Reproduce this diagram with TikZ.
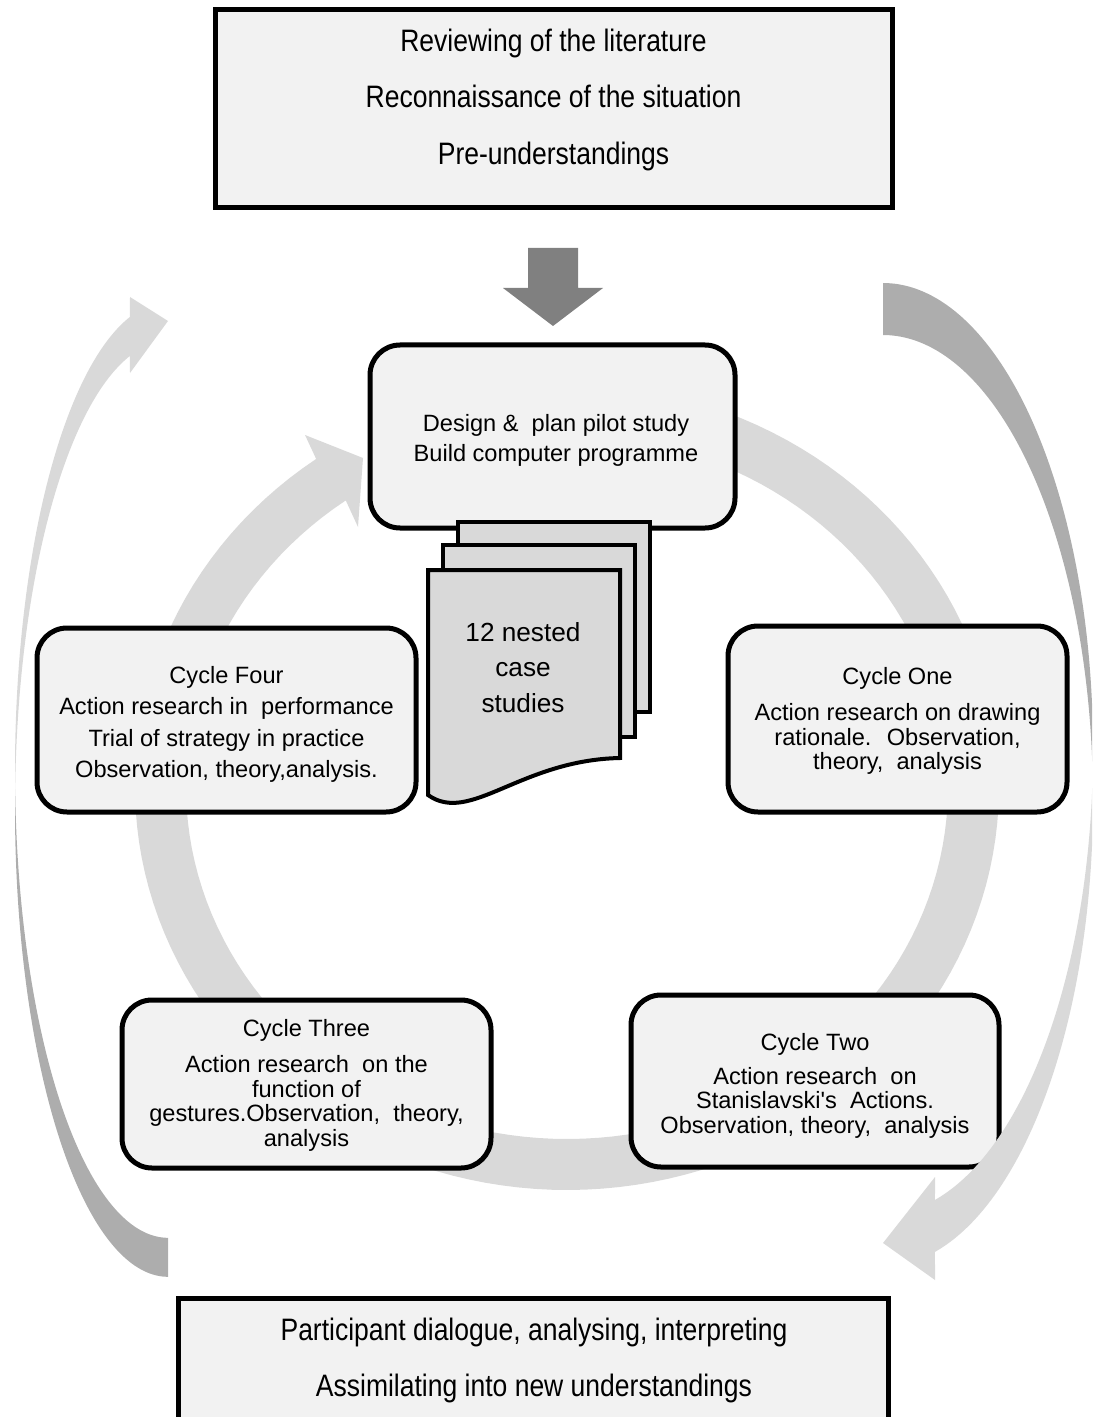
\documentclass[tikz,border=0pt]{standalone}
\usepackage{fontspec}
\setmainfont{Liberation Sans}
\newfontfamily\condfont[FakeStretch=0.855]{Liberation Sans}
\definecolor{boxfill}{HTML}{F2F2F2}
\definecolor{pagefill}{HTML}{D9D9D9}
\definecolor{ringgray}{HTML}{D9D9D9}
\definecolor{backgray}{HTML}{ADADAD}
\definecolor{arrowgray}{HTML}{808080}

\begin{document}
\begin{tikzpicture}[x=0.5pt, y=-0.5pt,
  sqbox/.style={draw=black, line width=2.5pt, fill=boxfill, inner sep=0pt},
  rbox/.style={sqbox, rounded corners=15pt},
  boxtext/.style={align=center, inner sep=0pt, font=\fontsize{11.8pt}{12.25pt}\selectfont},
  widetext/.style={align=center, inner sep=0pt, font=\condfont\fontsize{15.5pt}{28.25pt}\selectfont},
  doctext/.style={align=center, inner sep=0pt, font=\fontsize{13.1pt}{17.75pt}\selectfont},
  page/.style={draw=black, line width=2pt, fill=pagefill},
  lightband/.style={fill=ringgray},
  darkband/.style={fill=backgray},
]
\useasboundingbox (0,0) rectangle (1092,1417);
\clip (0,0) rectangle (1092,1417);

% central cycle: elliptical ring arrow running clockwise into the design box
\fill[lightband]
  plot[domain=-75:234.5, samples=140] ({567+432*cos(\x)},{787+403*sin(\x)})
  -- (305,435) -- (363,458) -- (358,527)
  -- plot[domain=234.5:-75, samples=140] ({567+381*cos(\x)},{787+352*sin(\x)})
  -- cycle;

% boxes
\node[sqbox, minimum width=338.5pt, minimum height=99pt] (lit) at (553.5,109) {};
\node[widetext] (littxt) at (553.5,99.8)
  {Reviewing of the literature\\Reconnaissance of the situation\\Pre-understandings};

\node[rbox, minimum width=182.5pt, minimum height=91.5pt] (design) at (552.5,436.5) {};
\node[boxtext] (designtxt) at (556,440.5)
  {Design \&~ plan pilot study\\[2.75pt]Build computer programme};

\node[rbox, minimum width=189.5pt, minimum height=92pt] (four) at (226.5,720) {};
\node[boxtext] (fourtxt) at (226.5,724.5)
  {Cycle Four\\[3.5pt]Action research in~ performance\\[3.5pt]Trial of strategy in practice\\[3.5pt]Observation, theory,analysis.};

\node[rbox, minimum width=169.5pt, minimum height=93pt] (one) at (897.5,719) {};
\node[boxtext] (onetxt) at (897.5,721)
  {Cycle One\\[5.75pt]Action research on drawing\\rationale.~ Observation,\\theory,~ analysis};

\node[rbox, minimum width=184.5pt, minimum height=84pt] (three) at (306.5,1084) {};
\node[boxtext] (threetxt) at (306.5,1085.5)
  {Cycle Three\\[5.75pt]Action research~ on the\\function of\\gestures.Observation,~ theory,\\analysis};

\node[rbox, minimum width=184pt, minimum height=86pt] (two) at (815,1081) {};
\node[boxtext] (twotxt) at (815,1085.5)
  {Cycle Two\\[4.75pt]Action research~ on\\Stanislavski\textquotesingle s~ Actions.\\Observation, theory,~ analysis};

\node[sqbox, minimum width=355pt, minimum height=81pt] (dialogue) at (533,1379) {};
\node[widetext] (dialoguetxt) at (534,1360.3)
  {Participant dialogue, analysing, interpreting\\Assimilating into new understandings};

% stack of case-study documents
\draw[page] (458,522) rectangle (650,712);
\draw[page] (443,545) rectangle (635,737);
\draw[page] (428,570) -- (620,570) -- (620,758)
  .. controls (520,760) and (470,825) .. (428,795) -- cycle;
\node[doctext] (cases) at (523,667.5) {12 nested\\case\\studies};

% left return arrow: shaded back part, then the front part with its head
\fill[darkband]
  plot[domain=177.6:90, samples=90] ({168+153*cos(\x)},{770+467.8*sin(\x)})
  -- plot[domain=90:182.4, samples=90] ({168+153*cos(\x)},{809+467.8*sin(\x)})
  -- cycle;
\fill[lightband]
  plot[domain=255.6:177.6, samples=90] ({168+153*cos(\x)},{770+467.8*sin(\x)})
  -- plot[domain=182.4:255.6, samples=90] ({168+153*cos(\x)},{809+467.8*sin(\x)})
  -- (130,373) -- (168,321) -- (130,297) -- cycle;

% right return arrow
\fill[darkband]
  plot[domain=270:363.2, samples=90] ({883+210*cos(\x)},{748.7+465.7*sin(\x)})
  -- plot[domain=356.8:270, samples=90] ({883+210*cos(\x)},{800.7+465.7*sin(\x)})
  -- cycle;
\fill[lightband]
  plot[domain=3.2:75.67, samples=90] ({883+210*cos(\x)},{748.7+465.7*sin(\x)})
  -- (935,1177) -- (883,1243) -- (935,1280)
  -- plot[domain=75.67:-3.2, samples=90] ({883+210*cos(\x)},{800.7+465.7*sin(\x)})
  -- cycle;

% block arrow from the literature box down to the design box
\fill[arrowgray] (528,248) -- (578,248) -- (578,288) -- (603,288)
  -- (553,326) -- (503,288) -- (528,288) -- cycle;
\end{tikzpicture}
\end{document}
